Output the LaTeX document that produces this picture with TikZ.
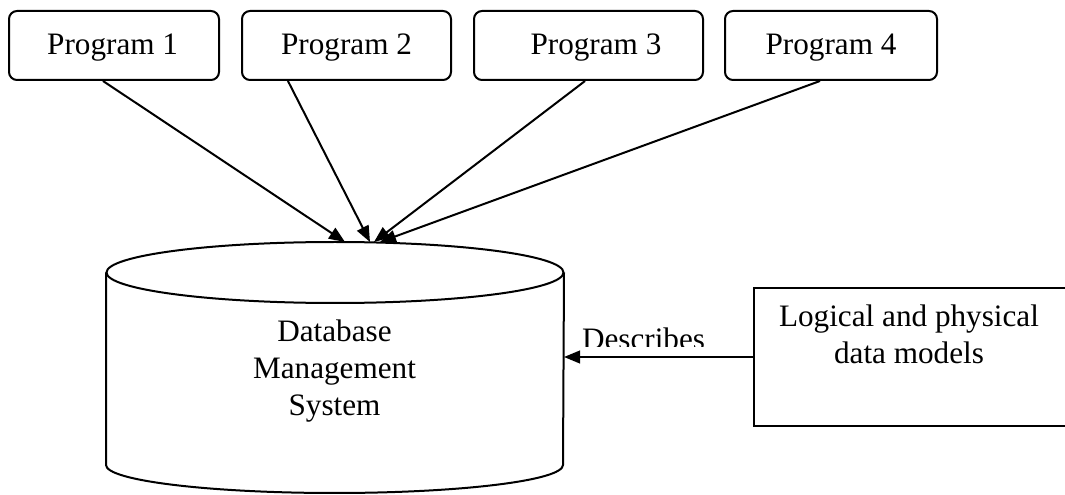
\documentclass[tikz,border=0pt]{standalone}
\usepackage{fontspec}
\setmainfont{Liberation Serif}
\usetikzlibrary{arrows.meta,calc}
\begin{document}
\begin{tikzpicture}[x=0.75pt,y=-0.75pt,
  line width=1.5pt,
  font=\fontsize{23.4}{28}\selectfont,
  progbox/.style={draw, rounded corners=6pt, minimum height=51.75pt, inner sep=0pt},
  feed/.style={-{Triangle[length=12pt,width=9.5pt]}},
  plain/.style={inner sep=0pt, align=center}]
  \clip (0,0) rectangle (1065,495);

  % program boxes
  \node[progbox, minimum width=157.5pt,
        label={[plain, xshift=-1pt, yshift=-1.5pt]center:Program 1}] (p1) at (114,45.5) {};
  \node[progbox, minimum width=156.75pt,
        label={[plain, yshift=-1.5pt]center:Program 2}] (p2) at (346.5,45.5) {};
  \node[progbox, minimum width=171.75pt,
        label={[plain, xshift=5.6pt, yshift=-1.5pt]center:Program 3}] (p3) at (588.5,45.5) {};
  \node[progbox, minimum width=159pt,
        label={[plain, yshift=-1.5pt]center:Program 4}] (p4) at (831,45.5) {};

  % database cylinder
  \draw (335,272.5) ellipse [x radius=171.375pt, y radius=22.875pt];
  \draw (106,272.5) -- (106,465)
        arc [start angle=180, end angle=360, x radius=171.375pt, y radius=21pt]
        -- (564,272.5);
  \node[plain] (dbms) at (334.5,371) {Database\\Management\\System};

  % points where the arrows meet the cylinder
  \coordinate (t1) at (345,242);
  \coordinate (t2) at (370,242);
  \coordinate (t3) at (374,242);
  \coordinate (t4) at (380,242);
  \coordinate (dbR) at (564,357);

  \draw[feed] ([xshift=-8.25pt]p1.south) -- (t1);
  \draw[feed] ([xshift=-43.9pt]p2.south) -- (t2);
  \draw[feed] ([xshift=-2.6pt]p3.south) -- (t3);
  \draw[feed] ([xshift=-8.25pt]p4.south) -- (t4);

  % data models box
  \node[draw, minimum width=244.5pt, minimum height=103.5pt, inner sep=0pt] (dm) at (917,357) {};
  \node[plain] (dmtext) at (909,334) {Logical and physical\\data models};

  \draw[feed] (dm.west) -- (dbR);
  \begin{scope}
    \clip (570,300) rectangle (720,347);
    \node[inner sep=0pt, anchor=base west] (desc) at (581,350) {Describes};
  \end{scope}
\end{tikzpicture}
\end{document}
